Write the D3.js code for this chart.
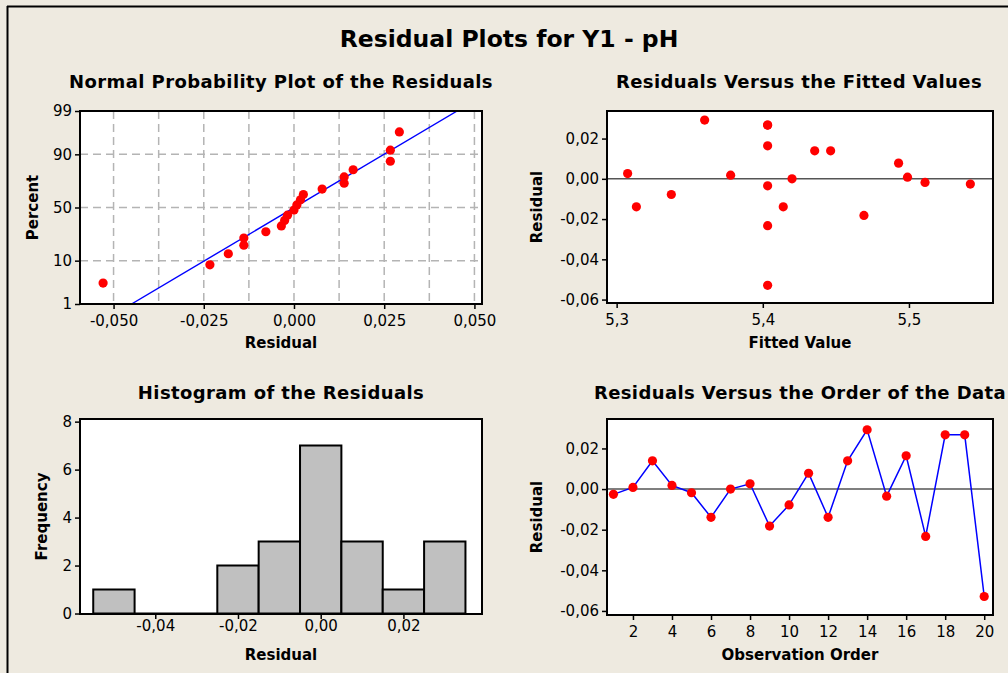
<!DOCTYPE html>
<html>
<head>
<meta charset="utf-8">
<script src="https://cdn.jsdelivr.net/npm/d3@7"></script>
<style>
body{margin:0;background:#eeeae0;}
svg{display:block;font-family:"DejaVu Sans",Verdana,sans-serif;}
.tick line{stroke:#000;stroke-width:1.5;}
</style>
</head>
<body>
<div id="chart"></div>
<script>
// residuals, in observation order
var observation = [1,2,3,4,5,6,7,8,9,10,11,12,13,14,15,16,17,18,19,20];
var residuals = [-0.0026,0.0008,0.0139,0.0018,-0.0018,-0.0139,0.0000,0.0026,-0.0182,-0.0078,
				0.0078,-0.0139,0.0139,0.0292,-0.0035,0.0164,-0.0233,0.0267,0.0267,-0.0529];
var fittedValues = [5.542,5.499,5.4355,5.378,5.511,5.3135,5.420,5.3075,5.4692,5.3374,
				5.4929,5.414,5.4464,5.3602,5.4033,5.4033,5.4033,5.4033,5.4033,5.4033];

// histogram bins
var binEdges = [-0.055,-0.045,-0.035,-0.025,-0.015,-0.005,0.005,0.015,0.025,0.035];
var binCounts = [1,0,0,2,3,7,3,1,3];

// tick values
var probPercentTicks = [1,10,50,90,99];
var probResidTicks = [-0.05,-0.025,0,0.025,0.05];
var probGridX = [-0.05,-0.0375,-0.025,-0.0125,0,0.0125,0.025,0.0375,0.05];
var probGridY = [10,50,90];
var fittedTicks = [5.3,5.4,5.5];
var residTicks = [-0.06,-0.04,-0.02,0,0.02];
var histResidTicks = [-0.04,-0.02,0,0.02];
var freqTicks = [0,2,4,6,8];
var orderTicks = [2,4,6,8,10,12,14,16,18,20];

var W = 1008, H = 673;
var loc = d3.formatLocale({decimal:",",thousands:".",grouping:[3],currency:["",""],minus:"-"});

// inverse normal cdf (Acklam)
function probit(p){
	var a=[-3.969683028665376e+01,2.209460984245205e+02,-2.759285104469687e+02,1.383577518672690e+02,-3.066479806614716e+01,2.506628277459239e+00];
	var b=[-5.447609879822406e+01,1.615858368580409e+02,-1.556989798598866e+02,6.680131188771972e+01,-1.328068155288572e+01];
	var c=[-7.784894002430293e-03,-3.223964580411365e-01,-2.400758277161838e+00,-2.549732539343734e+00,4.374664141464968e+00,2.938163982698783e+00];
	var d=[7.784695709041462e-03,3.224671290700398e-01,2.445134137142996e+00,3.754408661907416e+00];
	var pl=0.02425, q, r;
	if(p<pl){
		q=Math.sqrt(-2*Math.log(p));
		return (((((c[0]*q+c[1])*q+c[2])*q+c[3])*q+c[4])*q+c[5])/((((d[0]*q+d[1])*q+d[2])*q+d[3])*q+1);
	}
	if(p>1-pl){
		q=Math.sqrt(-2*Math.log(1-p));
		return -(((((c[0]*q+c[1])*q+c[2])*q+c[3])*q+c[4])*q+c[5])/((((d[0]*q+d[1])*q+d[2])*q+d[3])*q+1);
	}
	q=p-0.5; r=q*q;
	return (((((a[0]*r+a[1])*r+a[2])*r+a[3])*r+a[4])*r+a[5])*q/(((((b[0]*r+b[1])*r+b[2])*r+b[3])*r+b[4])*r+1);
}

var svg = d3.select("#chart").append("svg").attr("width",W).attr("height",H);

// outer frame (top and left only)
svg.append("line").attr("x1",7).attr("x2",W).attr("y1",6.5).attr("y2",6.5).attr("stroke","#000").attr("stroke-width",2);
svg.append("line").attr("x1",7.5).attr("x2",7.5).attr("y1",6).attr("y2",H).attr("stroke","#000").attr("stroke-width",2);

svg.append("text").attr("x",509).attr("y",47).attr("text-anchor","middle")
	.style("font-size","23.5px").style("font-weight","bold").text("Residual Plots for Y1 - pH");

var clipId = 0;
function panel(box, title, titleY, xLabel, xLabelY, yLabel, yLabelX){
	var p = {box:box};
	p.g = svg.append("g");
	p.g.append("rect").attr("x",box.x0).attr("y",box.y0).attr("width",box.x1-box.x0).attr("height",box.y1-box.y0)
		.attr("fill","#fff");
	clipId++;
	svg.append("clipPath").attr("id","clip"+clipId).append("rect")
		.attr("x",box.x0).attr("y",box.y0).attr("width",box.x1-box.x0).attr("height",box.y1-box.y0);
	p.inner = p.g.append("g").attr("clip-path","url(#clip"+clipId+")");
	var cx = (box.x0+box.x1)/2;
	svg.append("text").attr("x",box.tx).attr("y",titleY).attr("text-anchor","middle")
		.style("font-size","18px").style("font-weight","bold").style("letter-spacing","0.4px").text(title);
	svg.append("text").attr("x",cx).attr("y",xLabelY).attr("text-anchor","middle")
		.style("font-size","15px").style("font-weight","bold").text(xLabel);
	svg.append("text").attr("transform","translate("+yLabelX+","+((box.y0+box.y1)/2)+") rotate(-90)")
		.attr("text-anchor","middle").style("font-size","15px").style("font-weight","bold").text(yLabel);
	p.frame = function(){
		p.g.append("rect").attr("x",box.x0).attr("y",box.y0).attr("width",box.x1-box.x0).attr("height",box.y1-box.y0)
			.attr("fill","none").attr("stroke","#000").attr("stroke-width",2);
	};
	return p;
}

function drawAxes(p, x, y, xTicks, xFmt, xPad, yTicks, yFmt){
	var b = p.box;
	var gx = p.g.append("g").attr("transform","translate(0,"+b.y1+")")
		.call(d3.axisBottom(x).tickValues(xTicks).tickFormat(xFmt).tickSize(5).tickSizeOuter(0).tickPadding(xPad));
	gx.select(".domain").remove();
	var gy = p.g.append("g").attr("transform","translate("+b.x0+",0)")
		.call(d3.axisLeft(y).tickValues(yTicks).tickFormat(yFmt).tickSize(5).tickSizeOuter(0).tickPadding(3));
	gy.select(".domain").remove();
	gx.attr("font-family",null);
	gy.attr("font-family",null);
	gx.selectAll("text").style("font-size","15px").attr("fill","#000");
	gy.selectAll("text").style("font-size","15px").attr("fill","#000");
}

function dots(sel, data, x, y, fx, fy){
	sel.selectAll(null).data(data).enter().append("circle")
		.attr("cx",function(d,i){return x(fx(d,i));})
		.attr("cy",function(d,i){return y(fy(d,i));})
		.attr("r",4.6).attr("fill","#ff0000");
}

// ---- Normal probability plot
var p1 = panel({x0:80,x1:482,y0:111,y1:304,tx:281}, "Normal Probability Plot of the Residuals", 88,
	"Residual", 348, "Percent", 38);
var x1 = d3.scaleLinear().domain([-0.0593,0.0521]).range([80,482]);
var y1 = d3.scaleLinear().domain([probit(0.01),probit(0.99)]).range([304,111]);
p1.inner.selectAll(".gx").data(probGridX).enter().append("line")
	.attr("x1",function(d){return x1(d);}).attr("x2",function(d){return x1(d);})
	.attr("y1",111).attr("y2",304).attr("stroke","#b4b4b4").attr("stroke-width",1.5).attr("stroke-dasharray","8,5");
p1.inner.selectAll(".gy").data(probGridY).enter().append("line")
	.attr("y1",function(d){return y1(probit(d/100));}).attr("y2",function(d){return y1(probit(d/100));})
	.attr("x1",80).attr("x2",482).attr("stroke","#b4b4b4").attr("stroke-width",1.5).attr("stroke-dasharray","8,5");
var sorted = residuals.slice().sort(d3.ascending);
var n = sorted.length;
var mean = d3.mean(residuals), sd = d3.deviation(residuals);
var zLo = probit(0.01), zHi = probit(0.99);
p1.inner.append("line")
	.attr("x1",x1(mean+sd*zLo)).attr("y1",y1(zLo))
	.attr("x2",x1(mean+sd*zHi)).attr("y2",y1(zHi))
	.attr("stroke","#0000ff").attr("stroke-width",1.4);
dots(p1.inner, sorted, x1, y1, function(d){return d;}, function(d,i){return probit((i+1-0.3)/(n+0.4));});
p1.frame();
drawAxes(p1, x1, y1, probResidTicks, loc.format(".3f"), 6, probPercentTicks.map(function(v){return probit(v/100);}),
	function(d,i){return probPercentTicks[i];});

// ---- Residuals vs fitted
var p2 = panel({x0:607,x1:993,y0:111,y1:303,tx:799}, "Residuals Versus the Fitted Values", 88,
	"Fitted Value", 348, "Residual", 542);
var x2 = d3.scaleLinear().domain([5.2934,5.5575]).range([607,993]);
var y2 = d3.scaleLinear().domain([-0.0617,0.0337]).range([303,111]);
p2.inner.append("line").attr("x1",607).attr("x2",993).attr("y1",y2(0)).attr("y2",y2(0))
	.attr("stroke","#555").attr("stroke-width",1.5);
dots(p2.inner, residuals, x2, y2, function(d,i){return fittedValues[i];}, function(d){return d;});
p2.frame();
drawAxes(p2, x2, y2, fittedTicks, loc.format(".1f"), 6, residTicks, loc.format(".2f"));

// ---- Histogram
var p3 = panel({x0:80,x1:482,y0:419,y1:614,tx:281}, "Histogram of the Residuals", 399,
	"Residual", 660, "Frequency", 47);
var x3 = d3.scaleLinear().domain([-0.0582,0.039]).range([80,482]);
var y3 = d3.scaleLinear().domain([-0.02,8.11]).range([614,419]);
p3.inner.selectAll(".bar").data(binCounts).enter().append("path")
	.attr("d",function(d,i){
		var xa = x3(binEdges[i]), xb = x3(binEdges[i+1]);
		return "M"+xa+","+y3(0)+"V"+y3(d)+"H"+xb+"V"+y3(0)+"Z";
	})
	.attr("fill","#c0c0c0").attr("stroke","#000").attr("stroke-width",2);
p3.frame();
drawAxes(p3, x3, y3, histResidTicks, loc.format(".2f"), 1, freqTicks, loc.format("d"));

// ---- Residuals vs order
var p4 = panel({x0:607,x1:993,y0:419,y1:615,tx:800}, "Residuals Versus the Order of the Data", 399,
	"Observation Order", 660, "Residual", 542);
var x4 = d3.scaleLinear().domain([0.67,20.45]).range([607,993]);
var y4 = d3.scaleLinear().domain([-0.062,0.0345]).range([615,419]);
p4.inner.append("line").attr("x1",607).attr("x2",993).attr("y1",y4(0)).attr("y2",y4(0))
	.attr("stroke","#555").attr("stroke-width",1.5);
p4.inner.append("path").datum(residuals)
	.attr("d",d3.line().x(function(d,i){return x4(observation[i]);}).y(function(d){return y4(d);}))
	.attr("fill","none").attr("stroke","#0000ff").attr("stroke-width",1.5);
dots(p4.inner, residuals, x4, y4, function(d,i){return observation[i];}, function(d){return d;});
p4.frame();
drawAxes(p4, x4, y4, orderTicks, loc.format("d"), 6, residTicks, loc.format(".2f"));
</script>
</body>
</html>
